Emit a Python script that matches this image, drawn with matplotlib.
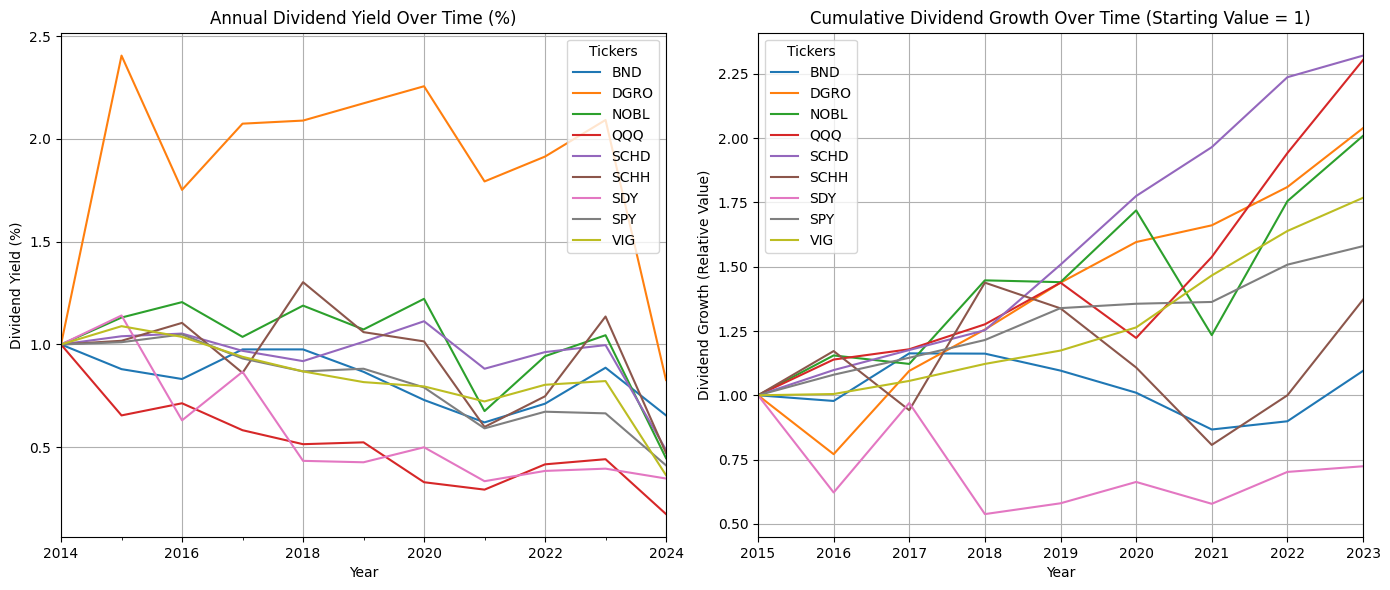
import matplotlib.pyplot as plt
from matplotlib.ticker import MultipleLocator

tickers = ['BND', 'DGRO', 'NOBL', 'QQQ', 'SCHD', 'SCHH', 'SDY', 'SPY', 'VIG']

# annual dividend yield, relative to 2014
yield_years = list(range(2014, 2025))
yield_bnd = [1.0, 0.880, 0.832, 0.976, 0.976, 0.867, 0.730, 0.621, 0.712, 0.887, 0.655]
yield_dgro = [1.0, 2.405, 1.752, 2.074, 2.089, 2.173, 2.256, 1.793, 1.914, 2.092, 0.827]
yield_nobl = [1.0, 1.131, 1.206, 1.037, 1.189, 1.073, 1.222, 0.676, 0.943, 1.045, 0.447]
yield_qqq = [1.0, 0.655, 0.714, 0.583, 0.515, 0.524, 0.330, 0.294, 0.417, 0.442, 0.175]
yield_schd = [1.0, 1.040, 1.053, 0.969, 0.919, 1.013, 1.113, 0.882, 0.963, 0.997, 0.487]
yield_schh = [1.0, 1.018, 1.105, 0.862, 1.303, 1.060, 1.015, 0.599, 0.748, 1.136, 0.472]
yield_sdy = [1.0, 1.141, 0.631, 0.867, 0.434, 0.427, 0.500, 0.335, 0.385, 0.396, 0.348]
yield_spy = [1.0, 1.011, 1.049, 0.932, 0.869, 0.882, 0.791, 0.592, 0.673, 0.665, 0.412]
yield_vig = [1.0, 1.089, 1.037, 0.940, 0.869, 0.817, 0.796, 0.723, 0.804, 0.822, 0.364]

# cumulative dividend growth, starting value = 1
growth_years = list(range(2015, 2024))
growth_bnd = [1.0, 0.978, 1.163, 1.162, 1.096, 1.010, 0.867, 0.899, 1.095]
growth_dgro = [1.0, 0.771, 1.095, 1.256, 1.438, 1.596, 1.661, 1.810, 2.039]
growth_nobl = [1.0, 1.155, 1.122, 1.447, 1.440, 1.719, 1.234, 1.755, 2.009]
growth_qqq = [1.0, 1.139, 1.179, 1.276, 1.438, 1.223, 1.538, 1.942, 2.304]
growth_schd = [1.0, 1.098, 1.176, 1.253, 1.508, 1.775, 1.965, 2.237, 2.321]
growth_schh = [1.0, 1.172, 0.942, 1.438, 1.338, 1.108, 0.807, 1.000, 1.372]
growth_sdy = [1.0, 0.622, 0.970, 0.538, 0.580, 0.663, 0.578, 0.702, 0.724]
growth_spy = [1.0, 1.080, 1.146, 1.215, 1.339, 1.356, 1.363, 1.508, 1.580]
growth_vig = [1.0, 1.005, 1.056, 1.122, 1.174, 1.264, 1.466, 1.639, 1.768]

yield_series = [yield_bnd, yield_dgro, yield_nobl, yield_qqq, yield_schd,
                yield_schh, yield_sdy, yield_spy, yield_vig]
growth_series = [growth_bnd, growth_dgro, growth_nobl, growth_qqq, growth_schd,
                 growth_schh, growth_sdy, growth_spy, growth_vig]

fig, (ax1, ax2) = plt.subplots(1, 2, figsize=(13.9, 5.9), dpi=100)

for name, vals in zip(tickers, yield_series):
    ax1.plot(yield_years, vals, label=name)
ax1.set_xlim(yield_years[0], yield_years[-1])
ax1.xaxis.set_major_locator(MultipleLocator(2))
ax1.xaxis.set_minor_locator(MultipleLocator(1))
ax1.set_title('Annual Dividend Yield Over Time (%)')
ax1.set_xlabel('Year')
ax1.set_ylabel('Dividend Yield (%)')
ax1.grid(True)
ax1.legend(title='Tickers', loc='upper right')

for name, vals in zip(tickers, growth_series):
    ax2.plot(growth_years, vals, label=name)
ax2.set_xlim(growth_years[0], growth_years[-1])
ax2.set_xticks(growth_years)
ax2.set_title('Cumulative Dividend Growth Over Time (Starting Value = 1)')
ax2.set_xlabel('Year')
ax2.set_ylabel('Dividend Growth (Relative Value)')
ax2.grid(True)
ax2.legend(title='Tickers', loc='upper left')

# match the panel placement of the original layout
plt.subplots_adjust(left=0.0439, right=0.9806, bottom=0.0898, top=0.9446, wspace=0.152)
plt.savefig('out.png')
